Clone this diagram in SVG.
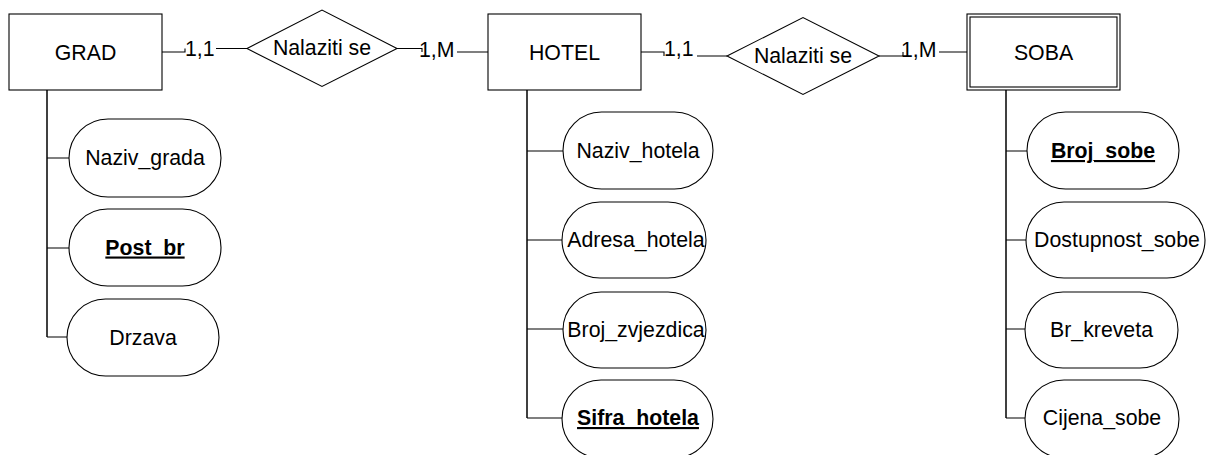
<svg xmlns="http://www.w3.org/2000/svg" width="1207" height="455" viewBox="0 0 1207 455">
<style>
.shape{fill:#fff;stroke:#000;stroke-width:1.1}
.ln{fill:none;stroke:#000;stroke-width:1.1}
.trunk{fill:none;stroke:#000;stroke-width:1.5}
text{font-family:"Liberation Sans",Arial,sans-serif;font-size:21.3px;fill:#000}
.c{text-anchor:middle}
.key{font-weight:bold;text-decoration:underline}
</style>
<rect width="1207" height="455" fill="#fff"/>
<g id="connectors">
<path class="ln" d="M162,52 H185 V48.5 M216,48.5 H247"/>
<path class="ln" d="M397,48.5 H422 V52 M457,52 H488"/>
<path class="ln" d="M641,52 H664 V56 M697,56 H727"/>
<path class="ln" d="M879,56 H903 V52 M939,52 H967"/>
<path class="trunk" d="M47,90 V337"/>
<path class="ln" d="M47,158 H69 M47,248 H69 M47,337 H67"/>
<path class="trunk" d="M527,90 V418"/>
<path class="ln" d="M527,151 H563 M527,240 H562 M527,329 H563 M527,418 H562"/>
<path class="trunk" d="M1006,90 V418"/>
<path class="ln" d="M1006,151 H1027 M1006,240 H1026 M1006,329 H1025 M1006,418 H1025"/>
<text x="185" y="56">1,1</text>
<text x="419" y="56.5">1,M</text>
<text x="664" y="56">1,1</text>
<text x="901" y="56.5">1,M</text>
</g>
<g id="grad">
<rect class="shape" x="9" y="14" width="153" height="76"/>
<text class="c" x="85.5" y="59.5">GRAD</text>
</g>
<g id="rel1">
<polygon class="shape" points="247,48.5 322,10 397,48.5 322,86.5"/>
<text class="c" x="322" y="55">Nalaziti se</text>
</g>
<g id="hotel">
<rect class="shape" x="488" y="14" width="153" height="76"/>
<text class="c" x="564.5" y="59.5">HOTEL</text>
</g>
<g id="rel2">
<polygon class="shape" points="727,56 803,17.5 879,56 803,94.5"/>
<text class="c" x="803" y="63">Nalaziti se</text>
</g>
<g id="soba">
<rect class="shape" x="967" y="14" width="153" height="76"/>
<rect class="shape" x="970" y="17" width="147" height="70"/>
<text class="c" x="1043.5" y="59.5">SOBA</text>
</g>
<g id="naziv_grada">
<rect class="shape" x="69" y="119" width="152" height="78" rx="39"/>
<text class="c" x="145" y="165">Naziv_grada</text>
</g>
<g id="post_br">
<rect class="shape" x="69" y="209" width="152" height="77" rx="38.5"/>
<text class="c key" x="145" y="254.5">Post_br</text>
</g>
<g id="drzava">
<rect class="shape" x="67" y="299" width="152" height="77" rx="38.5"/>
<text class="c" x="143" y="344.5">Drzava</text>
</g>
<g id="naziv_hotela">
<rect class="shape" x="563" y="112" width="150" height="77" rx="38.5"/>
<text class="c" x="638" y="158">Naziv_hotela</text>
</g>
<g id="adresa_hotela">
<rect class="shape" x="562" y="202" width="144" height="76" rx="38"/>
<text class="c" x="636" y="247">Adresa_hotela</text>
</g>
<g id="broj_zvjezdica">
<rect class="shape" x="563" y="292" width="143" height="76" rx="38"/>
<text class="c" x="636" y="336.5">Broj_zvjezdica</text>
</g>
<g id="sifra_hotela">
<rect class="shape" x="562" y="380" width="151" height="78" rx="39"/>
<text class="c key" x="638" y="425">Sifra_hotela</text>
</g>
<g id="broj_sobe">
<rect class="shape" x="1027" y="112" width="152" height="77" rx="38.5"/>
<text class="c key" x="1103" y="158">Broj_sobe</text>
</g>
<g id="dostupnost_sobe">
<rect class="shape" x="1026" y="202" width="179" height="76" rx="38"/>
<text class="c" x="1117" y="247">Dostupnost_sobe</text>
</g>
<g id="br_kreveta">
<rect class="shape" x="1025" y="292" width="153" height="76" rx="38"/>
<text class="c" x="1101.5" y="336.5">Br_kreveta</text>
</g>
<g id="cijena_sobe">
<rect class="shape" x="1025" y="380" width="154" height="78" rx="39"/>
<text class="c" x="1102" y="425">Cijena_sobe</text>
</g>
</svg>
